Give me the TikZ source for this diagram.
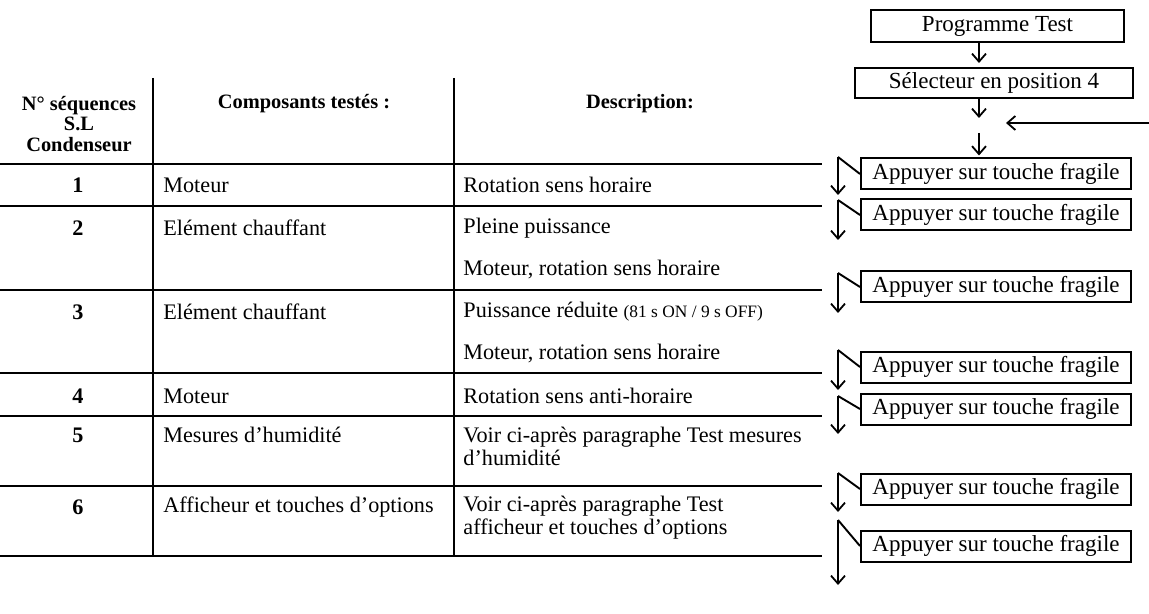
\documentclass[tikz,border=0pt]{standalone}
\usepackage{fontspec}
\setmainfont{Liberation Serif}
\usetikzlibrary{arrows.meta}

\newcommand\cellfont{\fontsize{11.1}{11.4}\selectfont}
\newcommand\headfont{\fontsize{10.2}{10.2}\selectfont\bfseries}
\newcommand\boxfont{\fontsize{11.5}{12}\selectfont}

\tikzset{
  rule/.style={line width=0.95pt},
  cell/.style={anchor=west, inner sep=0pt, font=\cellfont},
  seqno/.style={inner sep=0pt, font=\cellfont\bfseries},
  head/.style={inner sep=0pt, align=center, font=\headfont},
  keybox/.style={draw, line width=1pt, anchor=west, minimum width=135pt,
                 minimum height=15.5pt, inner sep=0pt, font=\boxfont},
  flow/.style={line width=0.9pt, -{Straight Barb[length=4pt,width=7pt]}},
}

\begin{document}
\begin{tikzpicture}[x=0.5pt, y=-0.5pt]
\useasboundingbox (0,0) rectangle (1149,614);

% Table headers
\node[head] (hseq)  at (79,124)  {N° séquences\\S.L\\Condenseur};
\node[head] (hcomp) at (304,104) {Composants testés :};
\node[head] (hdesc) at (640,104) {Description:};

% Sequence numbers and tested parts
\foreach \n/\y/\comp in {1/185/Moteur, 2/228/Elément chauffant,
    3/312/Elément chauffant, 4/396/Moteur, 5/435/Mesures d’humidité,
    6/507/Afficheur et touches d’options} {
  \node[seqno] (n\n) at (78,\y) {\n};
  \node[cell]  (c\n) at (163,\y) {\comp};
}

% Descriptions
\node[cell] (d1)  at (463,185) {Rotation sens horaire};
\node[cell] (d2a) at (463,228) {Pleine puissance};
\node[cell] (d2b) at (463,270) {Moteur, rotation sens horaire};
\node[cell] (d3a) at (463,312)
  {Puissance réduite {\fontsize{8.7}{9}\selectfont(81 s ON / 9 s OFF)}};
\node[cell] (d3b) at (463,354) {Moteur, rotation sens horaire};
\node[cell] (d4)  at (463,396) {Rotation sens anti-horaire};
\node[cell, align=left] (d5) at (463,446)
  {Voir ci-après paragraphe Test mesures\\d’humidité};
\node[cell, align=left] (d6) at (463,518)
  {Voir ci-après paragraphe Test\\afficheur et touches d’options};

% Table rules
\draw[rule]
  \foreach \y in {164,206,290,373,416,486,556} {(0,\y) -- (822,\y)}
  (153,78) -- (153,556)
  (454,78) -- (454,556);

% Test programme flow
\node[keybox, minimum width=126.5pt, minimum height=16pt] (prog) at (870,26)
  {Programme Test};
\node[keybox, minimum width=139pt, minimum height=15pt] (sel) at (854,83)
  {Sélecteur en position 4};

\foreach \n/\y in {1/174, 2/215, 3/287, 4/367, 5/409, 6/489, 7/546}
  \node[keybox] (k\n) at (860,\y) {Appuyer sur touche fragile};

\coordinate (spine) at (979,0);
\coordinate (j1) at (979,118);
\coordinate (j2) at (979,133);
\coordinate (back) at (1149,123);
\coordinate (backend) at (1006,123);

\draw[flow] (prog.south -| spine) -- ([yshift=2pt]sel.north -| spine);
\draw[flow] (sel.south -| spine) -- (j1);
\draw[flow] (back) -- (backend);
\draw[flow] (j2) -- ([yshift=1pt]k1.north -| spine);

% Key presses: step on to the next sequence
\foreach \n/\top/\len in {1/157/38, 2/200/40, 3/273/40, 4/350/40,
                          5/396/38, 6/473/39, 7/520/65} {
  \coordinate (z\n) at (838,\top);
  \draw[rule] (k\n.west) -- (z\n);
  \draw[flow] (z\n) -- ++(0,\len);
}
\end{tikzpicture}
\end{document}
